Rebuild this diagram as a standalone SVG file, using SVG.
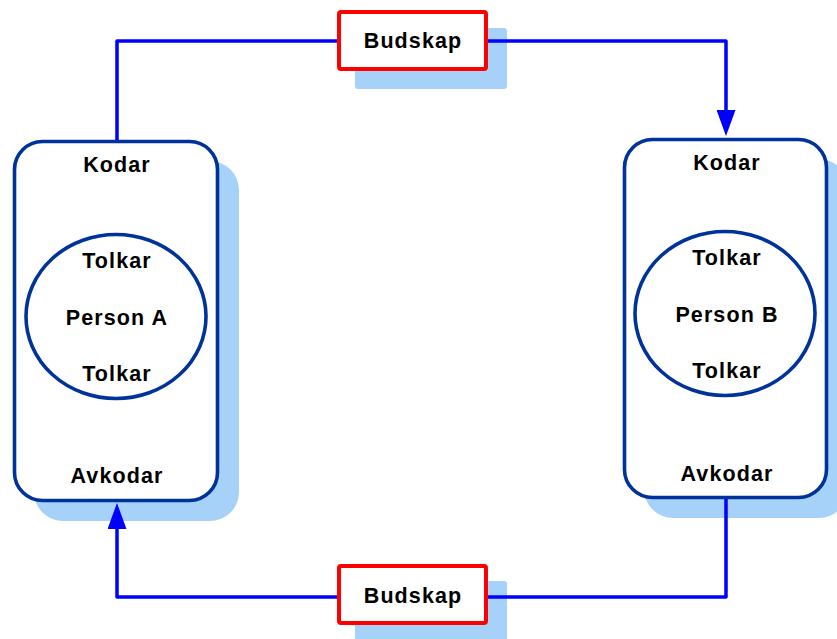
<svg xmlns="http://www.w3.org/2000/svg" width="837" height="639" viewBox="0 0 837 639">
<style>
.shadow{fill:#a6d2fa;stroke:none}
.person{fill:#ffffff;stroke:#003399;stroke-width:3.6}
.msg{fill:#ffffff;stroke:#ff0000;stroke-width:4}
.conn{fill:none;stroke:#0000ff;stroke-width:3.5;stroke-linejoin:round}
text{font-family:"Liberation Sans",Arial,sans-serif;font-weight:bold;font-size:21.5px;fill:#000;text-anchor:middle;letter-spacing:1.1px}
</style>
<defs>
<marker id="arr" viewBox="0 0 26 19" markerWidth="26" markerHeight="19" refX="6" refY="9.5" orient="auto" markerUnits="userSpaceOnUse">
<polygon points="0,0 26,9.5 0,19" fill="#0000ff"/>
</marker>
</defs>
<rect width="837" height="639" fill="#ffffff"/>
<g id="personA">
<rect class="shadow" x="34" y="161" width="205" height="360" rx="29"/>
<rect class="person" x="14.5" y="141.5" width="203" height="359" rx="28"/>
<ellipse class="person" cx="116" cy="316.5" rx="90" ry="82"/>
<text x="117" y="172">Kodar</text>
<text x="117" y="268">Tolkar</text>
<text x="117" y="325">Person A</text>
<text x="117" y="381">Tolkar</text>
<text x="117" y="483">Avkodar</text>
</g>
<g id="personB">
<rect class="shadow" x="644" y="159" width="204" height="359" rx="29"/>
<rect class="person" x="624.5" y="139.5" width="202" height="358" rx="28"/>
<ellipse class="person" cx="725" cy="313.5" rx="90" ry="82"/>
<text x="727" y="170">Kodar</text>
<text x="727" y="265">Tolkar</text>
<text x="727" y="322">Person B</text>
<text x="727" y="378">Tolkar</text>
<text x="727" y="481">Avkodar</text>
</g>
<g id="budskapTop">
<rect class="shadow" x="355" y="28" width="152" height="61" rx="3"/>
<rect class="msg" x="339" y="12" width="147" height="57" rx="2"/>
<text x="413" y="48">Budskap</text>
</g>
<g id="budskapBottom">
<rect class="shadow" x="355" y="581" width="152" height="61" rx="3"/>
<rect class="msg" x="339" y="566" width="147" height="57" rx="2"/>
<text x="413" y="603">Budskap</text>
</g>
<g id="connectors">
<path class="conn" d="M117 140 V41 H337"/>
<path class="conn" d="M488 41 H726 V116" marker-end="url(#arr)"/>
<path class="conn" d="M726 499 V597 H488"/>
<path class="conn" d="M337 597 H117 V523" marker-end="url(#arr)"/>
</g>
</svg>
